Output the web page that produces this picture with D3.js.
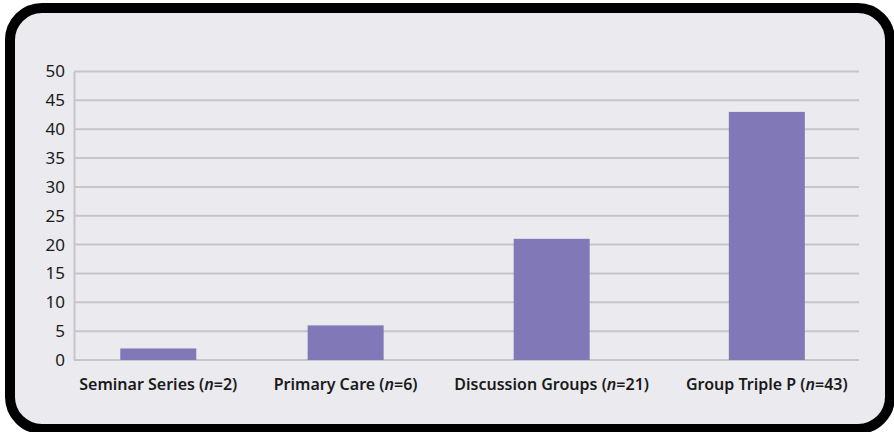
<!DOCTYPE html>
<html>
<head>
<meta charset="utf-8">
<script src="https://cdn.jsdelivr.net/npm/d3@7"></script>
<style>
  html, body { margin: 0; padding: 0; background: #ffffff; }
  svg { display: block; }
</style>
</head>
<body>
<svg id="chart" width="894" height="432"></svg>
<script>
// Participants by delivery format
const categories = ["Seminar Series", "Primary Care", "Discussion Groups", "Group Triple P"];
const counts = [2, 6, 21, 43];
const yTicks = [0, 5, 10, 15, 20, 25, 30, 35, 40, 45, 50];

const W = 894, H = 432;
const plot = { left: 74, right: 859, top: 71.5, bottom: 360 };
const barWidth = 76;
const labelGap = 33;

const svg = d3.select("#chart");

// Rounded frame
svg.append("rect")
  .attr("x", 10).attr("y", 8)
  .attr("width", 880).attr("height", 421)
  .attr("rx", 32).attr("ry", 32)
  .attr("fill", "#ebeaef")
  .attr("stroke", "#000")
  .attr("stroke-width", 10);

const y = d3.scaleLinear().domain([0, 50]).range([plot.bottom, plot.top]);

// Horizontal gridlines
svg.append("g").selectAll("line")
  .data(yTicks)
  .join("line")
  .attr("x1", plot.left).attr("x2", plot.right)
  .attr("y1", d => y(d)).attr("y2", d => y(d))
  .attr("stroke", "#c6c5ca")
  .attr("stroke-width", 2);

// Y axis
const yAxis = svg.append("g")
  .attr("transform", `translate(${plot.left},0)`)
  .call(d3.axisLeft(y).tickValues(yTicks).tickSize(0).tickPadding(9));
yAxis.select(".domain").attr("stroke", "#c6c5ca").attr("stroke-width", 2);
yAxis.selectAll("text")
  .attr("fill", "#1a1a1a")
  .style("font-family", "'Noto Sans', sans-serif")
  .style("font-size", "17px");

// Category labels, laid out first so their widths set the band widths
const labels = svg.append("g").selectAll("text")
  .data(categories)
  .join("text")
  .attr("y", 390)
  .attr("text-anchor", "middle")
  .attr("fill", "#1a1a1a")
  .style("font-family", "'Noto Sans', sans-serif")
  .style("font-weight", 600)
  .style("font-size", "16px");
labels.each(function(d, i) {
  const t = d3.select(this);
  t.append("tspan").text(d + " (");
  t.append("tspan").attr("font-style", "italic").text("n");
  t.append("tspan").text("=" + counts[i] + ")");
});

const widths = labels.nodes().map(n => n.getComputedTextLength() + labelGap);
const starts = d3.cumsum([0, ...widths]);
const total = starts[starts.length - 1];
const xPos = d3.scaleLinear().domain([0, total]).range([61, 866]);
const center = i => xPos(starts[i] + widths[i] / 2);

labels.attr("x", (d, i) => center(i));

// Bars
svg.append("g").selectAll("rect")
  .data(counts)
  .join("rect")
  .attr("x", (d, i) => center(i) - barWidth / 2)
  .attr("width", barWidth)
  .attr("y", d => y(d))
  .attr("height", d => y(0) - y(d))
  .attr("fill", "#8179b7");
</script>
</body>
</html>
